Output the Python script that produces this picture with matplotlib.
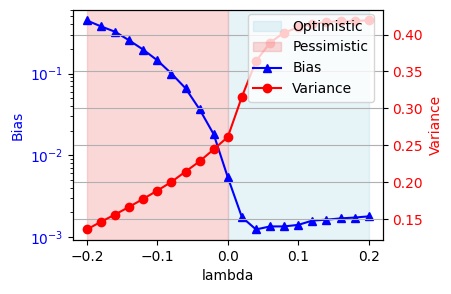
import numpy as np
import matplotlib
matplotlib.use("Agg")
import matplotlib.pyplot as plt

# lambda sweep
lam = np.round(np.arange(-0.2, 0.2001, 0.02), 2)

bias = [0.447, 0.378, 0.325, 0.255, 0.196, 0.145, 0.100, 0.066, 0.0364, 0.018,
        0.00535, 0.00174, 0.00123, 0.00134, 0.00134, 0.0014, 0.00158, 0.00162,
        0.00168, 0.00172, 0.00178]
variance = [0.1365, 0.1469, 0.1567, 0.167, 0.1779, 0.189, 0.2008, 0.2147, 0.2286,
            0.2448, 0.2615, 0.3158, 0.364, 0.389, 0.4027, 0.4095, 0.414, 0.417,
            0.418, 0.4185, 0.419]

fig, ax1 = plt.subplots(figsize=(4.52, 2.94), dpi=100)
fig.subplots_adjust(left=0.161, right=0.847, bottom=0.184, top=0.966)

# shaded regimes
opt = ax1.axvspan(0, 0.2, color='lightblue', alpha=0.3, label='Optimistic')
pes = ax1.axvspan(-0.2, 0, color='lightcoral', alpha=0.3, label='Pessimistic')

l1, = ax1.plot(lam, bias, 'b-^', label='Bias')
ax1.set_yscale('log')
ax1.set_xlabel('lambda')
ax1.set_ylabel('Bias', color='blue')
ax1.tick_params(axis='y', labelcolor='blue')

ax2 = ax1.twinx()
l2, = ax2.plot(lam, variance, 'r-o', label='Variance')
ax2.set_ylabel('Variance', color='red')
ax2.tick_params(axis='y', labelcolor='red')
ax2.grid(True)

ax2.legend(handles=[opt, pes, l1, l2], loc='upper right',
           bbox_to_anchor=(0.9935, 1.013))

fig.savefig('out.png', dpi=100)
